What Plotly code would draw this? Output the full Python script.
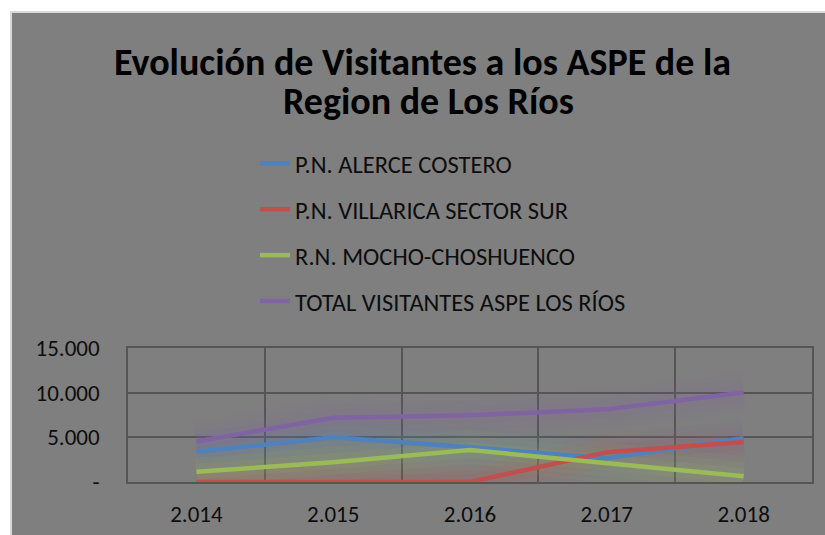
import plotly.graph_objects as go

years = ["2.014", "2.015", "2.016", "2.017", "2.018"]
alerce = [3390, 5000, 3880, 2650, 4890]
villarrica = [0, 0, 0, 3320, 4480]
mocho = [1150, 2200, 3580, 2160, 650]
total = [4540, 7200, 7460, 8130, 10020]

series_names = ["P.N. ALERCE COSTERO", "P.N. VILLARICA SECTOR SUR",
                "R.N. MOCHO-CHOSHUENCO", "TOTAL VISITANTES ASPE LOS RÍOS"]
series_values = [alerce, villarrica, mocho, total]
colors = ["#4f81bd", "#c0504d", "#9bbb59", "#8064a2"]
glow_rgb = ["79,129,189", "192,80,77", "155,187,89", "128,100,162"]

y_tickvals = [0, 5000, 10000, 15000]
y_ticktext = ["-", "5.000", "10.000", "15.000"]

title_lines = ["Evolución de Visitantes a los ASPE de la", "Region de Los Ríos"]

FONT = "Carlito, Lato, sans-serif"
GRAY = "#7f7f7f"
GRID = "#555555"

L, R, T, B = 128, 13, 348, 53
PW, PH = 825 - L - R, 535 - T - B


def px(x):
    return (x - L) / PW


def py(y):
    return (535 - B - y) / PH


fig = go.Figure()

# soft glow layers
for vals, rgb in zip(series_values, glow_rgb):
    for w, a in [(40, 0.05), (28, 0.07), (16, 0.09)]:
        fig.add_trace(go.Scatter(x=years, y=vals, mode="lines",
                                 line=dict(color=f"rgba({rgb},{a})", width=w),
                                 showlegend=False, hoverinfo="skip"))

for i, (name, vals, c) in enumerate(zip(series_names, series_values, colors)):
    fig.add_trace(go.Scatter(x=years, y=vals, mode="lines", name=name,
                             legendgroup=f"g{i}",
                             line=dict(color=c, width=4.5)))

fig.add_shape(type="rect", xref="paper", yref="paper",
              x0=px(11), x1=px(840), y0=py(560), y1=py(12),
              fillcolor=GRAY, line=dict(color="#d9d9d9", width=2), layer="below")

fig.add_annotation(text=f"<b>{title_lines[0]}</b>", xref="paper", yref="paper",
                   x=px(422), y=py(62), showarrow=False,
                   font=dict(family=FONT, size=38, color="#000000"),
                   xanchor="center", yanchor="middle")
fig.add_annotation(text=f"<b>{title_lines[1]}</b>", xref="paper", yref="paper",
                   x=px(428), y=py(101), showarrow=False,
                   font=dict(family=FONT, size=38, color="#000000"),
                   xanchor="center", yanchor="middle")

fig.update_layout(
    width=825, height=535,
    margin=dict(l=L, r=R, t=T, b=B, autoexpand=False),
    paper_bgcolor="white",
    plot_bgcolor=GRAY,
    font=dict(family=FONT, size=23, color="#0d0d0d"),
    legend=dict(x=px(255), y=py(141), xanchor="left", yanchor="top",
                bgcolor="rgba(0,0,0,0)", tracegroupgap=11,
                font=dict(family=FONT, size=24.5, color="#0d0d0d")),
    xaxis=dict(type="category", tickson="boundaries", showgrid=True,
               range=[-0.5, 4.5], automargin=False,
               gridcolor=GRID, gridwidth=1.5, showline=True, linecolor=GRID,
               linewidth=2, mirror=True, ticks="", zeroline=False,
               ticklabelstandoff=10, fixedrange=True),
    yaxis=dict(range=[0, 15000], tickvals=y_tickvals, ticktext=y_ticktext,
               automargin=False,
               showgrid=True, gridcolor=GRID, gridwidth=1.5, showline=True,
               linecolor=GRID, linewidth=1.5, mirror=True, zeroline=False,
               ticks="", ticklabelstandoff=22),
    showlegend=True,
)

fig.write_html("out.html", post_script="document.body.style.margin='0';",
               config={"displayModeBar": False})
